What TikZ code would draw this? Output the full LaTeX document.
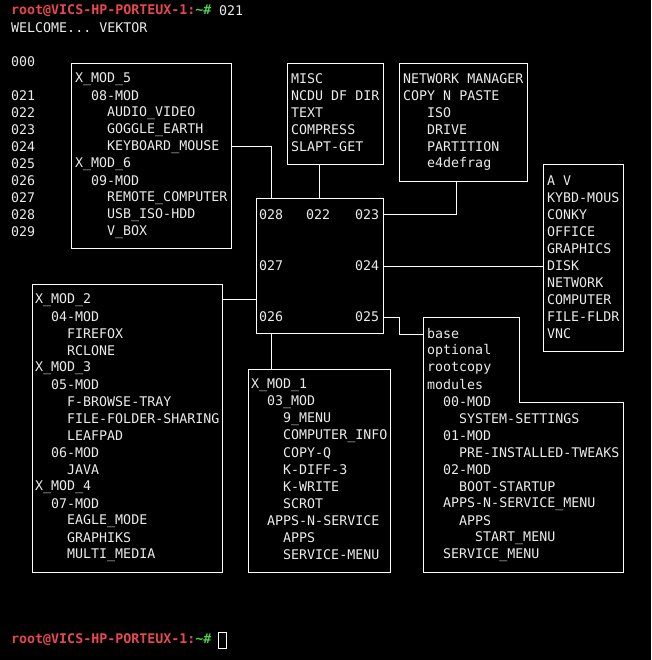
\documentclass[tikz,border=0pt]{standalone}
\usepackage{fontspec}
\setmonofont{DejaVu Sans Mono}
\begin{document}
\begin{tikzpicture}[x=1pt,y=-1pt,
  txt/.style={text=white!92!black,font=\ttfamily\fontsize{13.3}{17}\selectfont,inner sep=0pt,anchor=west},
  bx/.style={draw=white,line width=1pt},
  ln/.style={draw=white,line width=1pt}]
\fill[black] (0,0) rectangle (651,660);
\useasboundingbox (0,0) rectangle (651,660);
\newcommand\tl[3]{\node[txt] at (#1,#2) {#3};}
% prompts
\node[txt,font=\ttfamily\bfseries\fontsize{13.3}{17}\selectfont] (p1) at (11,11) {\textcolor[HTML]{E8474F}{root@VICS-HP-PORTEUX-1:}\textcolor[HTML]{4CD04C}{\~{}\#}};
\tl{219}{11}{021}
\tl{11}{28}{WELCOME... VEKTOR}
\node[txt,font=\ttfamily\bfseries\fontsize{13.3}{17}\selectfont] (p2) at (11,640) {\textcolor[HTML]{E8474F}{root@VICS-HP-PORTEUX-1:}\textcolor[HTML]{4CD04C}{\~{}\#}};
\draw[white,line width=0.8pt] (218.5,632.5) rectangle (226.5,648.5);
% left numbers
\tl{11}{62}{000}
\foreach \n [count=\i] in {021,022,023,024,025,026,027,028,029}{\tl{11}{79+17*\i}{\n}}
% boxes
\node[bx,minimum width=160,minimum height=185,anchor=north west] (b5) at (71,63) {};
\node[bx,minimum width=96,minimum height=101,anchor=north west] (bm) at (287,63) {};
\node[bx,minimum width=128,minimum height=118,anchor=north west] (bn) at (399,63) {};
\node[bx,minimum width=80,minimum height=187,anchor=north west] (ba) at (543,164) {};
\node[bx,minimum width=127,minimum height=135,anchor=north west] (bc) at (256,198) {};
\node[bx,minimum width=190,minimum height=288,anchor=north west] (b2) at (32,284) {};
\node[bx,minimum width=142,minimum height=203,anchor=north west] (b1) at (248,369) {};
\coordinate (bbw) at (423,334);
\draw[bx] (423,317) -- (519,317) -- (519,402) -- (623,402) -- (623,572) -- (423,572) -- cycle;
% box 5
\tl{75}{79}{X\_MOD\_5}\tl{91}{96}{08-MOD}\tl{107}{113}{AUDIO\_VIDEO}\tl{107}{130}{GOGGLE\_EARTH}
\tl{107}{147}{KEYBOARD\_MOUSE}\tl{75}{164}{X\_MOD\_6}\tl{91}{181}{09-MOD}\tl{107}{198}{REMOTE\_COMPUTER}
\tl{107}{215}{USB\_ISO-HDD}\tl{107}{232}{V\_BOX}
% misc
\tl{291}{79}{MISC}\tl{291}{96}{NCDU DF DIR}\tl{291}{113}{TEXT}\tl{291}{130}{COMPRESS}\tl{291}{147}{SLAPT-GET}
% network
\tl{403}{79}{NETWORK MANAGER}\tl{403}{96}{COPY N PASTE}\tl{427}{113}{ISO}\tl{427}{130}{DRIVE}\tl{427}{147}{PARTITION}\tl{427}{164}{e4defrag}
% AV
\foreach \t [count=\i] in {A V,KYBD-MOUS,CONKY,OFFICE,GRAPHICS,DISK,NETWORK,COMPUTER,FILE-FLDR,VNC}{\tl{547}{164+17*\i}{\t}}
% central
\tl{259}{215}{028}\tl{306}{215}{022}\tl{355}{215}{023}
\tl{259}{266}{027}\tl{355}{266}{024}
\tl{259}{317}{026}\tl{355}{317}{025}
% box 2
\tl{35}{300}{X\_MOD\_2}\tl{51}{317}{04-MOD}\tl{67}{334}{FIREFOX}\tl{67}{351}{RCLONE}
\tl{35}{368}{X\_MOD\_3}\tl{51}{385}{05-MOD}\tl{67}{402}{F-BROWSE-TRAY}\tl{67}{419}{FILE-FOLDER-SHARING}
\tl{67}{436}{LEAFPAD}\tl{51}{453}{06-MOD}\tl{67}{470}{JAVA}\tl{35}{487}{X\_MOD\_4}\tl{51}{504}{07-MOD}
\tl{67}{521}{EAGLE\_MODE}\tl{67}{538}{GRAPHIKS}\tl{67}{555}{MULTI\_MEDIA}
% box 1
\tl{251}{385}{X\_MOD\_1}\tl{267}{402}{03\_MOD}\tl{283}{419}{9\_MENU}\tl{283}{436}{COMPUTER\_INFO}
\tl{283}{453}{COPY-Q}\tl{283}{470}{K-DIFF-3}\tl{283}{487}{K-WRITE}\tl{283}{504}{SCROT}
\tl{267}{521}{APPS-N-SERVICE}\tl{283}{538}{APPS}\tl{283}{555}{SERVICE-MENU}
% base
\tl{427}{334}{base}\tl{427}{351}{optional}\tl{427}{368}{rootcopy}\tl{427}{385}{modules}
\tl{443}{402}{00-MOD}\tl{459}{419}{SYSTEM-SETTINGS}\tl{443}{436}{01-MOD}\tl{459}{453}{PRE-INSTALLED-TWEAKS}
\tl{443}{470}{02-MOD}\tl{459}{487}{BOOT-STARTUP}\tl{443}{504}{APPS-N-SERVICE\_MENU}\tl{459}{521}{APPS}
\tl{475}{538}{START\_MENU}\tl{443}{555}{SERVICE\_MENU}
% connectors
\coordinate (c1) at (271,147);
\draw[ln] (b5.east |- c1) -| (bc.north -| c1);
\draw[ln] (bm.south -| 319,0) -- (bc.north -| 319,0);
\draw[ln] (bn.south -| 456,0) |- (bc.east |- 0,214);
\draw[ln] (bc.east |- 0,266) -- (ba.west |- 0,266);
\draw[ln] (bc.west |- 0,299) -- (b2.east |- 0,299);
\draw[ln] (bc.south -| 271,0) -- (b1.north -| 271,0);
\coordinate (c2) at (399,317);
\draw[ln] (bc.east |- c2) -- (c2) |- (bbw);
\end{tikzpicture}
\end{document}
